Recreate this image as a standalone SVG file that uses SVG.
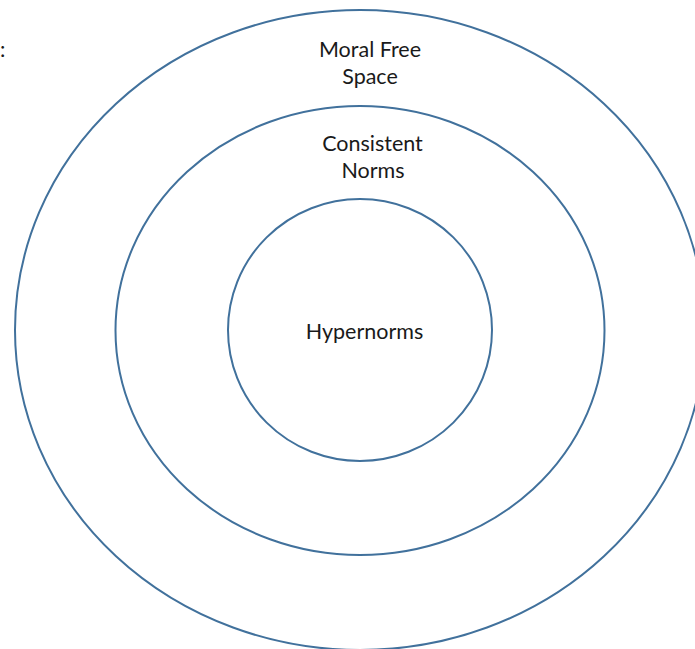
<svg xmlns="http://www.w3.org/2000/svg" width="695" height="649" viewBox="0 0 695 649">
<style>
.ring{fill:none;stroke:#41719C;stroke-width:2}
.lbl{font-family:Lato,"Open Sans","Liberation Sans",sans-serif;font-size:21.5px;fill:#1a1a1a;text-anchor:middle}
</style>
<rect width="695" height="649" fill="#ffffff"/>
<text x="0" y="57" class="lbl" style="text-anchor:start">:</text>
<g id="moral-free-space">
<ellipse class="ring" cx="360" cy="330" rx="345" ry="320"/>
<text class="lbl" x="370" y="57">Moral Free</text>
<text class="lbl" x="370" y="84">Space</text>
</g>
<g id="consistent-norms">
<ellipse class="ring" cx="360" cy="330.5" rx="244.5" ry="224.5"/>
<text class="lbl" x="372.5" y="151">Consistent</text>
<text class="lbl" x="373" y="178">Norms</text>
</g>
<g id="hypernorms">
<ellipse class="ring" cx="360" cy="330" rx="132" ry="131"/>
<text class="lbl" x="364.5" y="339">Hypernorms</text>
</g>
<g id="connectors"></g>
</svg>
